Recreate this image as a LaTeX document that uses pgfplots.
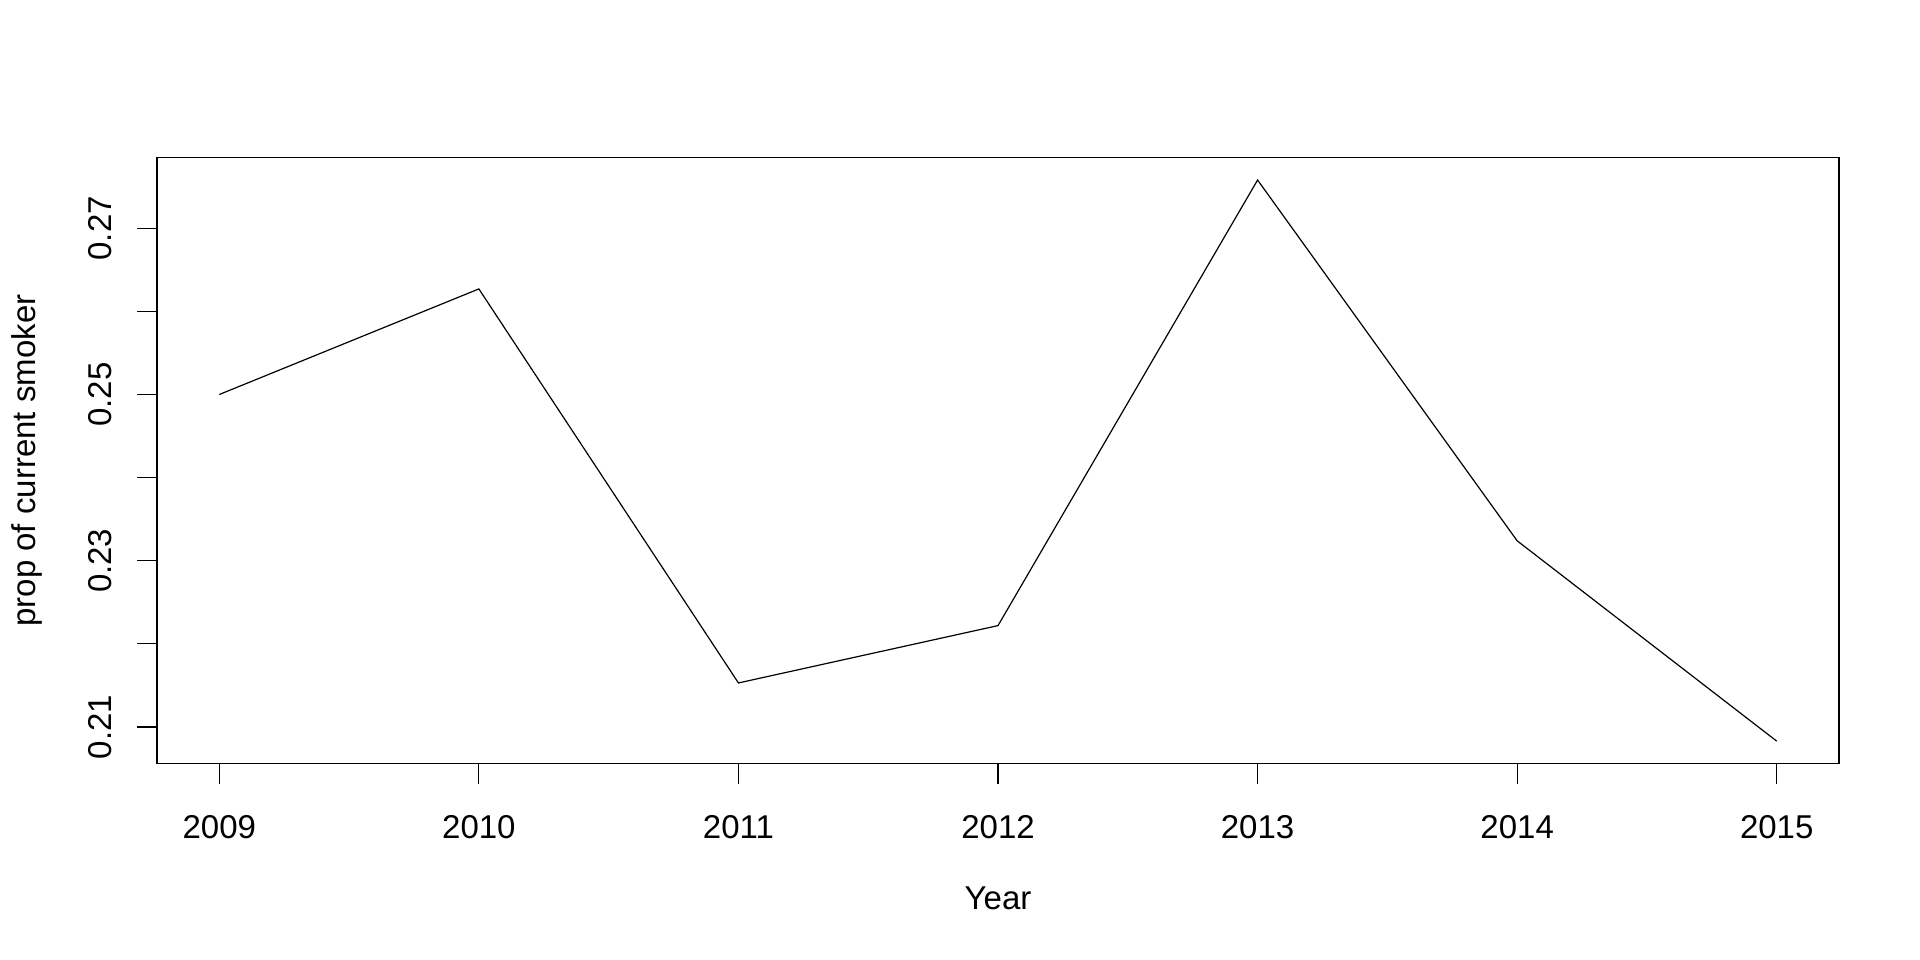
\documentclass[border=0pt]{standalone}
\usepackage{pgfplots}
\pgfplotsset{compat=1.18}
\usepackage{fontspec}
\setmainfont{Liberation Sans}
\begin{document}
\fontsize{16.5bp}{19bp}\selectfont
\begin{tikzpicture}[x=1bp,y=1bp]
\path[use as bounding box] (0,0) rectangle (960,480);
\begin{axis}[
  at={(78.5bp,98.2bp)}, anchor=south west,
  scale only axis, width=841bp, height=303bp,
  xmin=2008.76, xmax=2015.24, ymin=0.2056, ymax=0.2785,
  axis line style={line width=0.6bp},
  tick style={line width=0.6bp, black},
  tick align=outside, major tick length=10bp,
  /pgf/number format/assume math mode=true,
  xtick={2009,2010,2011,2012,2013,2014,2015},
  xticklabels={2009,2010,2011,2012,2013,2014,2015},
  ytick={0.21,0.22,0.23,0.24,0.25,0.26,0.27},
  yticklabels={0.21,,0.23,,0.25,,0.27},
  xtick pos=bottom, ytick pos=left,
  xticklabel style={font=\fontsize{16.5bp}{19bp}\selectfont, yshift=-10bp},
  yticklabel style={font=\fontsize{16.5bp}{19bp}\selectfont, xshift=-7bp, rotate=90, anchor=south},
  xlabel={Year}, ylabel={prop of current smoker},
  xlabel style={font=\fontsize{16.5bp}{19bp}\selectfont, at={(axis description cs:0.5,0)}, anchor=center, yshift=-67.5bp},
  ylabel style={font=\fontsize{16.5bp}{19bp}\selectfont, at={(axis description cs:0,0.5)}, anchor=center, rotate=0, yshift=65bp},
]
\addplot[black, line width=0.6bp, mark=none] coordinates {
(2009,0.2500) (2010,0.2627) (2011,0.2153) (2012,0.2222) (2013,0.2758) (2014,0.2324) (2015,0.2083)
};
\end{axis}
\end{tikzpicture}
\end{document}
